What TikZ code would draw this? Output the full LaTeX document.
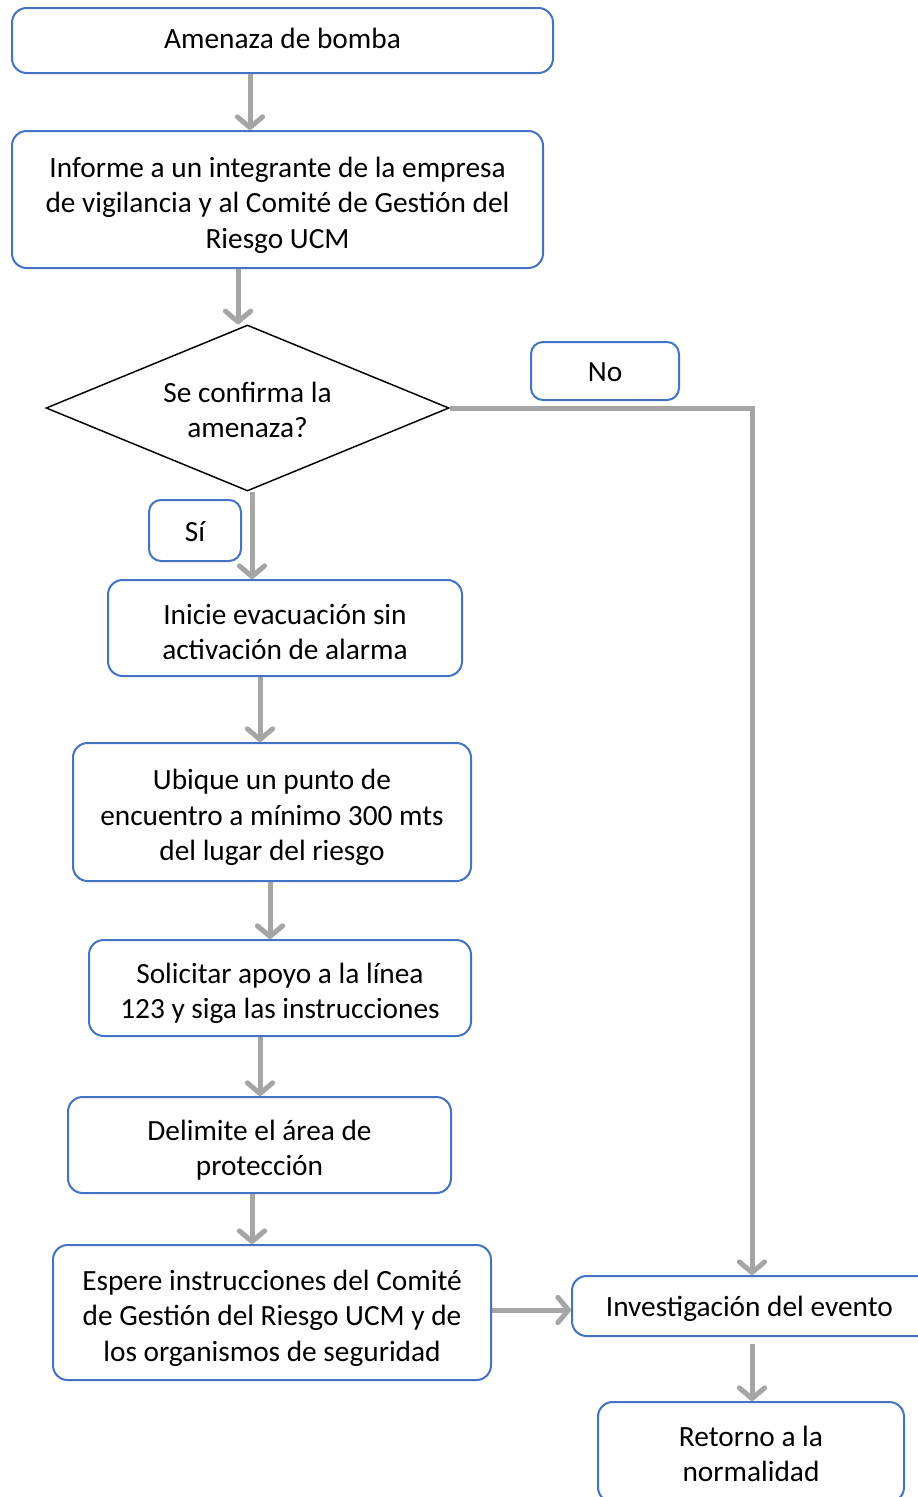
\documentclass[tikz,border=0pt]{standalone}
\usepackage{fontspec}
\setmainfont{Carlito}
\usetikzlibrary{arrows.meta,shapes.geometric}
\definecolor{boxblue}{HTML}{4472C4}
\definecolor{arrowgray}{HTML}{A5A5A5}
% centred lines, lowered a little as in the original text boxes
\newcommand{\boxlines}[2][4.6pt]{\raisebox{-#1}[\height][\depth]{\begin{tabular}{@{}c@{}}#2\end{tabular}}}
\tikzset{
  stepbox/.style={draw=boxblue, line width=1.5pt, rounded corners=11pt, inner sep=0pt},
  tagbox/.style={stepbox, rounded corners=9pt},
  decision/.style={draw=black, line width=1.1pt, diamond, shape aspect=2.4, inner sep=0pt},
  arr/.style={draw=arrowgray, line width=3.75pt, -{Straight Barb[length=8pt,width=19pt,round]}},
}
\begin{document}
\begin{tikzpicture}[x=0.75pt,y=-0.75pt,font=\fontsize{22}{26.6}\selectfont]
  \useasboundingbox (0,0) rectangle (918,1497);
  % main column
  \node[stepbox, minimum width=405.75pt, minimum height=48.75pt] (amen) at (282.5,40.5) {\boxlines[0.75pt]{Amenaza de bomba}};
  \node[stepbox, minimum width=398.25pt, minimum height=102.75pt] (inf) at (277.5,199.5)
    {\boxlines{Informe a un integrante de la empresa\\de vigilancia y al Comité de Gestión del\\Riesgo UCM}};
  \node[decision, minimum width=302.25pt, minimum height=124.5pt] (q) at (247.5,408) {\boxlines[3.8pt]{Se confirma la\\amenaza?}};
  \node[tagbox, minimum width=111pt, minimum height=43.5pt] (no) at (605,371) {\boxlines[2.6pt]{No}};
  \node[tagbox, minimum width=69pt, minimum height=45.75pt] (si) at (195,530.5) {\boxlines[2.8pt]{Sí}};
  \node[stepbox, minimum width=265.5pt, minimum height=72pt] (evac) at (285,628) {\boxlines[5.2pt]{Inicie evacuación sin\\activación de alarma}};
  \node[stepbox, minimum width=298.5pt, minimum height=103.5pt] (punto) at (272,812)
    {\boxlines{Ubique un punto de\\encuentro a mínimo 300 mts\\del lugar del riesgo}};
  \node[stepbox, minimum width=286.5pt, minimum height=72pt] (apoyo) at (280,988) {\boxlines{Solicitar apoyo a la línea\\123 y siga las instrucciones}};
  \node[stepbox, minimum width=287.25pt, minimum height=72pt] (area) at (259.5,1145) {\boxlines{Delimite el área de\\protección}};
  \node[stepbox, minimum width=328.5pt, minimum height=101.25pt] (esp) at (272,1312.5)
    {\boxlines{Espere instrucciones del Comité\\de Gestión del Riesgo UCM y de\\los organismos de seguridad}};
  % right column
  \node[stepbox, minimum width=273pt, minimum height=45pt] (inv) at (754,1306) {\boxlines[2.5pt]{Investigación del evento\hspace*{7pt}}};
  \node[stepbox, minimum width=229.5pt, minimum height=75pt] (ret) at (751,1452) {\boxlines[3.8pt]{Retorno a la\\normalidad}};
  % connectors
  \draw[arr] (amen.south -| 250,0) -- (inf.north -| 250,0);
  \draw[arr] (inf.south -| 238,0) -- (q.north -| 238,0);
  \draw[arr] (q.south -| 252,0) -- (evac.north -| 252,0);
  \draw[arr] (q.east) -| (inv.north -| 752,0);
  \draw[arr] (evac.south -| 260,0) -- (punto.north -| 260,0);
  \draw[arr] (punto.south -| 270,0) -- (apoyo.north -| 270,0);
  \draw[arr] (apoyo.south -| 260,0) -- (area.north -| 260,0);
  \draw[arr] (area.south -| 252,0) -- (esp.north -| 252,0);
  \draw[arr] (esp.east |- 0,1310) -- (inv.west |- 0,1310);
  \draw[arr] (inv.south -| 752,0) ++(0,7) -- (ret.north -| 752,0);
\end{tikzpicture}
\end{document}
